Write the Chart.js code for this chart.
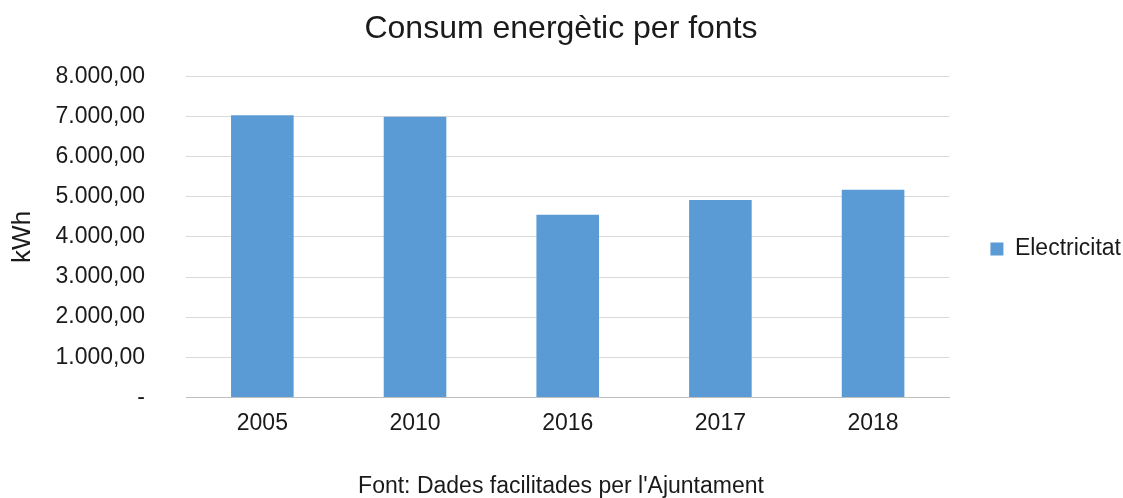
<!DOCTYPE html>
<html>
<head>
<meta charset="utf-8">
<title>Consum energètic per fonts</title>
<script src="https://cdn.jsdelivr.net/npm/chart.js@4/dist/chart.umd.min.js"></script>
<style>
    body { margin: 0; background: #fff; }
    #wrap { width: 1123px; height: 498px; position: relative; }
</style>
</head>
<body>
<div id="wrap"><canvas id="energyChart"></canvas></div>
<script>
// Yearly electricity consumption
const years = ['2005', '2010', '2016', '2017', '2018'];
const electricitat = [7030, 6995, 4555, 4920, 5175];
const yTicks = [0, 1000, 2000, 3000, 4000, 5000, 6000, 7000, 8000];

// Catalan style number: 8.000,00 and a dash for zero
function formatKwh(v) {
    if (v === 0) return '-';
    const parts = v.toFixed(2).split('.');
    const intPart = parts[0].replace(/\B(?=(\d{3})+(?!\d))/g, '.');
    return intPart + ',' + parts[1];
}

const font = 'Liberation Sans, Arial, sans-serif';
const textColor = '#1a1a1a';

const ctx = document.getElementById('energyChart').getContext('2d');
const chart = new Chart(ctx, {
    type: 'bar',
    data: {
        labels: years,
        datasets: [{
            label: 'Electricitat',
            data: electricitat,
            backgroundColor: '#5B9BD5',
            borderWidth: 0,
            barPercentage: 0.41,
            categoryPercentage: 1
        }]
    },
    options: {
        responsive: true,
        maintainAspectRatio: false,
        animation: false,
        layout: {
            // legend keeps a blank strip after its text, pull it to the edge;
            // equal overhang on the left keeps the title centred
            padding: { left: -9, right: -8, top: 0, bottom: 0 }
        },
        plugins: {
            title: {
                display: true,
                text: 'Consum energètic per fonts',
                color: textColor,
                font: { family: font, size: 32, weight: 'normal' },
                padding: { top: 10, bottom: 28 }
            },
            subtitle: {
                display: true,
                position: 'bottom',
                text: "Font: Dades facilitades per l'Ajuntament",
                color: textColor,
                font: { family: font, size: 23, lineHeight: 1.0 },
                padding: { top: 26, bottom: 0 }
            },
            legend: {
                position: 'right',
                labels: {
                    color: textColor,
                    font: { family: font, size: 23 },
                    boxWidth: 13,
                    boxHeight: 13,
                    padding: 2
                }
            },
            tooltip: { enabled: false }
        },
        scales: {
            x: {
                grid: { display: false, drawTicks: false },
                border: { color: '#BFBFBF', width: 1 },
                ticks: {
                    color: textColor,
                    font: { family: font, size: 23 },
                    padding: 12
                }
            },
            y: {
                min: 0,
                max: 8000,
                afterBuildTicks: axis => {
                    axis.ticks = yTicks.map(v => ({ value: v }));
                },
                // fixed width so the labels sit close to the kWh title
                afterFit: axis => { axis.width = 195; },
                grid: { color: '#D9D9D9', lineWidth: 1, drawTicks: false },
                border: { display: false },
                ticks: {
                    color: textColor,
                    font: { family: font, size: 23 },
                    padding: 41,
                    callback: value => formatKwh(value)
                },
                title: {
                    display: true,
                    text: 'kWh',
                    color: textColor,
                    font: { family: font, size: 26 },
                    padding: { top: 16, bottom: 0 }
                }
            },
            // empty right axis, only keeps a gap between the bars and the legend
            gap: {
                type: 'linear',
                position: 'right',
                display: true,
                grid: { display: false, drawTicks: false },
                border: { display: false },
                ticks: { display: false },
                afterFit: axis => { axis.width = 39; }
            }
        }
    }
});
</script>
</body>
</html>
